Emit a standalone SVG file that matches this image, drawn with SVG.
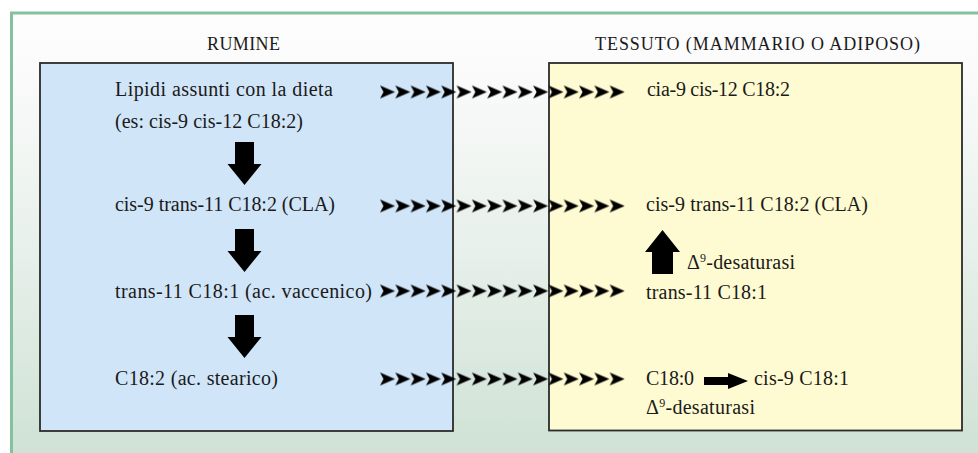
<svg xmlns="http://www.w3.org/2000/svg" width="978" height="453" viewBox="0 0 978 453">
  <defs>
    <linearGradient id="bg" x1="0" y1="0" x2="0" y2="1">
      <stop offset="0" stop-color="#fdfdfd"/>
      <stop offset="0.12" stop-color="#fbfbfb"/>
      <stop offset="0.5" stop-color="#e9f1ec"/>
      <stop offset="1" stop-color="#cfe2d5"/>
    </linearGradient>
    <pattern id="chev" patternUnits="objectBoundingBox" x="0" y="0" width="0.0625" height="1">
      <polygon points="0,0 15,6.5 0,13 3.5,6.5" fill="#000"/>
    </pattern>
    <path id="downArrow" d="M-9.5,0 H9.5 V22 H17 L0,43 L-17,22 H-9.5 Z" fill="#000"/>
  </defs>
  <style>
    text { font-family: "Liberation Serif", "Times New Roman", serif; fill: #1a1a1a; }
    .title { font-size: 18px; }
    .lbl { font-size: 20px; }
    .box { stroke: #2b2b2b; stroke-width: 1.8; }
  </style>

  <rect x="0" y="0" width="978" height="453" fill="#ffffff"/>
  <g id="frame">
    <rect x="11.5" y="13" width="966.5" height="440" fill="url(#bg)"/>
    <line x1="10" y1="13" x2="978" y2="13" stroke="#84c19f" stroke-width="3"/>
    <line x1="11.5" y1="13" x2="11.5" y2="453" stroke="#84c19f" stroke-width="3"/>
  </g>

  <g id="rumine">
    <rect class="box" x="40" y="63" width="413" height="368" fill="#d1e5f8"/>
    <text class="title" x="243.5" y="50" text-anchor="middle" textLength="73" lengthAdjust="spacing">RUMINE</text>
  </g>
  <g id="tessuto">
    <rect class="box" x="549" y="63" width="413" height="367.5" fill="#fefad1"/>
    <text class="title" x="757.5" y="50" text-anchor="middle" textLength="325" lengthAdjust="spacing">TESSUTO (MAMMARIO O ADIPOSO)</text>
  </g>

  <g id="n-lipidi">
    <text class="lbl" x="115" y="96" textLength="218" lengthAdjust="spacing">Lipidi assunti con la dieta</text>
    <text class="lbl" x="115" y="128" textLength="188" lengthAdjust="spacing">(es: cis-9 cis-12 C18:2)</text>
  </g>
  <g id="n-cla-r">
    <text class="lbl" x="115" y="211" textLength="220" lengthAdjust="spacing">cis-9 trans-11 C18:2 (CLA)</text>
  </g>
  <g id="n-vacc-r">
    <text class="lbl" x="115" y="298" textLength="257" lengthAdjust="spacing">trans-11 C18:1 (ac. vaccenico)</text>
  </g>
  <g id="n-stear-r">
    <text class="lbl" x="115" y="385" textLength="163" lengthAdjust="spacing">C18:2 (ac. stearico)</text>
  </g>

  <g id="n-cia-t">
    <text class="lbl" x="647" y="96" textLength="143" lengthAdjust="spacing">cia-9 cis-12 C18:2</text>
  </g>
  <g id="n-cla-t">
    <text class="lbl" x="646" y="211" textLength="222" lengthAdjust="spacing">cis-9 trans-11 C18:2 (CLA)</text>
  </g>
  <g id="n-desat1">
    <text class="lbl" x="687" y="269" textLength="108" lengthAdjust="spacing">Δ<tspan font-size="12" dy="-7">9</tspan><tspan dy="7">-desaturasi</tspan></text>
  </g>
  <g id="n-vacc-t">
    <text class="lbl" x="646" y="299" textLength="121" lengthAdjust="spacing">trans-11 C18:1</text>
  </g>
  <g id="n-c180">
    <text class="lbl" x="646" y="385" textLength="48" lengthAdjust="spacing">C18:0</text>
  </g>
  <g id="n-oleic">
    <text class="lbl" x="754" y="385" textLength="95" lengthAdjust="spacing">cis-9 C18:1</text>
  </g>
  <g id="n-desat2">
    <text class="lbl" x="646" y="414" textLength="109" lengthAdjust="spacing">Δ<tspan font-size="12" dy="-7">9</tspan><tspan dy="7">-desaturasi</tspan></text>
  </g>

  <g id="connectors">
    <rect x="380" y="85.5" width="245" height="13" fill="url(#chev)"/>
    <rect x="380" y="199.5" width="245" height="13" fill="url(#chev)"/>
    <rect x="380" y="284.5" width="245" height="13" fill="url(#chev)"/>
    <rect x="380" y="372.5" width="245" height="13" fill="url(#chev)"/>
    <use href="#downArrow" x="244.5" y="142"/>
    <use href="#downArrow" x="244.5" y="229"/>
    <use href="#downArrow" x="244.5" y="315"/>
    <path d="M652,274 V252 H645 L662.5,230 L680,252 H673 V274 Z" fill="#000"/>
    <path d="M704,377 H728 V373 L748,381 L728,389 V385 H704 Z" fill="#000"/>
  </g>
</svg>
